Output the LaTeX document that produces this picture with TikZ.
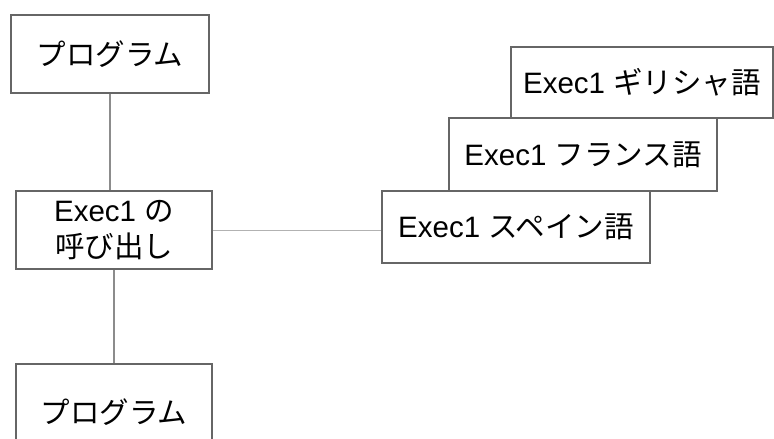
\documentclass[tikz,border=0pt]{standalone}
\usepackage{fontspec}
\setmainfont{Liberation Sans}
\newfontfamily\jp{Noto Sans CJK JP}

\begin{document}
\begin{tikzpicture}[x=1pt, y=-1pt, font=\fontsize{29.5}{36}\selectfont,
		box/.style={draw=black!60, line width=1.3pt, rectangle, fill=white, inner sep=0pt, align=center},
		link/.style={draw=black!45, line width=2pt}]
				\useasboundingbox (0,0) rectangle (774,439);
				\node[box, minimum width=198pt, minimum height=78pt] (P1)at(110, 54) {\jp プログラム};
				\node[box, minimum width=196pt, minimum height=78pt] (E)at(114, 230) {Exec1 {\jp の}\\{\jp 呼び出し}};
				\node[box, minimum width=196pt, minimum height=96pt] (P2)at(114, 412) {\jp プログラム};
				\node[box, minimum width=262pt, minimum height=71pt] (G)at(642, 82.5) {Exec1 {\jp ギリシャ語}};
				\node[box, minimum width=268pt, minimum height=73pt] (F)at(583, 154.5) {Exec1 {\jp フランス語}};
				\node[box, minimum width=268pt, minimum height=72pt] (S)at(516, 227) {Exec1 {\jp スペイン語}};
				\draw[link] (P1.south) -- (P1.south |- E.north);
				\draw[link] (E.south) -- (P2.north);
				\draw[link, draw=black!30, line width=1pt] (E.east) -- (E.east -| S.west);
			\end{tikzpicture}
\end{document}
